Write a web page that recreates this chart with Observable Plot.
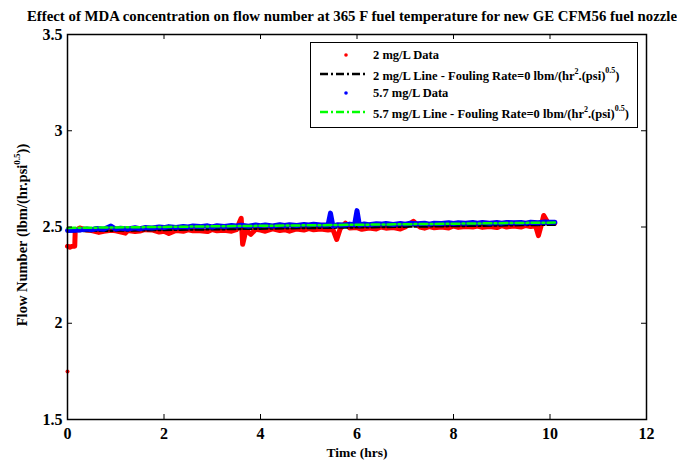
<!DOCTYPE html>
<html>
<head>
<meta charset="utf-8">
<script src="https://cdn.jsdelivr.net/npm/d3@7"></script>
<script src="https://cdn.jsdelivr.net/npm/@observablehq/plot@0.6"></script>
<style>
  html, body { margin: 0; padding: 0; background: white; }
  svg { display: block; }
</style>
</head>
<body>
<div id="chart"></div>
<script>
const titleText = "Effect of MDA concentration on flow number at 365 F fuel temperature for new GE CFM56 fuel nozzle";
const xLabel = "Time (hrs)";
const yLabelMain = "Flow Number (lbm/(hr.psi";
const yLabelSup = "0.5";
const yLabelEnd = "))";

const xTicks = [0, 2, 4, 6, 8, 10, 12];
const xTickLabels = ["0", "2", "4", "6", "8", "10", "12"];
const yTicks = [1.5, 2, 2.5, 3, 3.5];
const yTickLabels = ["1.5", "2", "2.5", "3", "3.5"];

// 2 mg/L data (red)
const redT = [0, 0.05, 0.1, 0.15, 0.16, 0.25, 0.4, 0.5, 0.65, 0.75, 0.9, 1.0, 1.2, 1.25, 1.4, 1.5, 1.6, 1.75, 1.9, 2.0, 2.1, 2.25, 2.4, 2.5, 2.6, 2.75, 2.9, 3.0, 3.1, 3.25, 3.4, 3.5, 3.6, 3.63, 3.7, 3.8, 3.9, 4.0, 4.1, 4.25, 4.4, 4.5, 4.6, 4.75, 4.9, 5.0, 5.1, 5.25, 5.4, 5.5, 5.58, 5.65, 5.76, 5.85, 6.0, 6.1, 6.25, 6.4, 6.5, 6.6, 6.75, 6.9, 7.0, 7.17, 7.3, 7.4, 7.5, 7.6, 7.75, 7.9, 8.0, 8.1, 8.25, 8.4, 8.5, 8.6, 8.75, 8.9, 9.0, 9.1, 9.25, 9.4, 9.5, 9.6, 9.7, 9.76, 9.82, 9.87, 9.95, 10.1];
const redV = [2.40, 2.395, 2.40, 2.40, 2.48, 2.495, 2.484, 2.482, 2.472, 2.478, 2.483, 2.48, 2.468, 2.482, 2.476, 2.479, 2.486, 2.485, 2.474, 2.478, 2.466, 2.482, 2.478, 2.485, 2.48, 2.48, 2.476, 2.487, 2.48, 2.483, 2.478, 2.486, 2.545, 2.41, 2.485, 2.462, 2.488, 2.484, 2.478, 2.49, 2.482, 2.486, 2.478, 2.49, 2.484, 2.492, 2.486, 2.49, 2.484, 2.488, 2.435, 2.49, 2.52, 2.495, 2.497, 2.488, 2.495, 2.49, 2.5, 2.494, 2.497, 2.49, 2.5, 2.53, 2.5, 2.494, 2.502, 2.496, 2.5, 2.495, 2.505, 2.498, 2.503, 2.5, 2.505, 2.498, 2.502, 2.497, 2.507, 2.5, 2.505, 2.5, 2.508, 2.502, 2.506, 2.455, 2.51, 2.56, 2.525, 2.52];
const redOutlierT = [0];
const redOutlierV = [1.75];

// 5.7 mg/L data (blue)
const blueT = [0, 0.25, 0.4, 0.5, 0.6, 0.75, 0.9, 1.0, 1.1, 1.25, 1.4, 1.5, 1.6, 1.75, 1.9, 2.0, 2.1, 2.25, 2.4, 2.5, 2.6, 2.75, 2.9, 3.0, 3.1, 3.25, 3.4, 3.5, 3.6, 3.75, 3.9, 4.0, 4.1, 4.25, 4.4, 4.5, 4.6, 4.75, 4.9, 5.0, 5.1, 5.25, 5.4, 5.45, 5.5, 5.6, 5.75, 5.85, 5.95, 6.0, 6.05, 6.15, 6.25, 6.4, 6.5, 6.6, 6.75, 6.9, 7.0, 7.1, 7.25, 7.4, 7.5, 7.6, 7.75, 7.9, 8.0, 8.1, 8.25, 8.4, 8.5, 8.6, 8.75, 8.9, 9.0, 9.1, 9.25, 9.4, 9.5, 9.6, 9.75, 9.9, 10.0, 10.1];
const blueV = [2.482, 2.484, 2.49, 2.486, 2.492, 2.488, 2.505, 2.489, 2.494, 2.49, 2.496, 2.491, 2.497, 2.495, 2.5, 2.497, 2.502, 2.498, 2.503, 2.5, 2.505, 2.502, 2.506, 2.5, 2.507, 2.503, 2.508, 2.505, 2.509, 2.504, 2.51, 2.507, 2.511, 2.505, 2.512, 2.508, 2.512, 2.508, 2.513, 2.51, 2.514, 2.51, 2.51, 2.572, 2.505, 2.512, 2.51, 2.515, 2.512, 2.585, 2.51, 2.516, 2.512, 2.517, 2.515, 2.518, 2.513, 2.518, 2.515, 2.519, 2.517, 2.52, 2.515, 2.52, 2.518, 2.522, 2.518, 2.522, 2.52, 2.523, 2.52, 2.524, 2.52, 2.523, 2.52, 2.524, 2.522, 2.524, 2.52, 2.525, 2.522, 2.526, 2.525, 2.525];

// fitted lines
const fitT = [0, 10.1];
const blackFitV = [2.478, 2.512];
const greenFitV = [2.495, 2.523];

const legendLabels = ["2 mg/L Data", "2 mg/L Line - Fouling Rate=0 lbm/(hr", "5.7 mg/L Data", "5.7 mg/L Line - Fouling Rate=0 lbm/(hr"];
const legendColors = ["#ff0000", "#000000", "#0000ff", "#00ff00"];

const zip = (T, V) => T.map((t, i) => ({t, v: V[i]}));
const red = zip(redT, redV);
const blue = zip(blueT, blueV);
const redOut = zip(redOutlierT, redOutlierV);
const blackFit = zip(fitT, blackFitV);
const greenFit = zip(fitT, greenFitV);

const W = 677, H = 462, mT = 34, mB = 43, mL = 67, mR = 31;
const innerW = W - mL - mR, innerH = H - mT - mB;
const font = "'Liberation Serif', 'Times New Roman', serif";
const dash = "8,3,2,3";

const chart = Plot.plot({
  width: W, height: H,
  marginTop: mT, marginBottom: mB, marginLeft: mL, marginRight: mR,
  x: {domain: [0, 12]},
  y: {domain: [1.5, 3.5]},
  style: {fontFamily: font, fontWeight: "bold", fontSize: "16px", background: "white", color: "black"},
  marks: [
    Plot.line(red, {x: "t", y: "v", stroke: "#ff0000", strokeWidth: 5, strokeLinejoin: "round", strokeLinecap: "round"}),
    Plot.line(blackFit, {x: "t", y: "v", stroke: "#000000", strokeWidth: 2.5, strokeDasharray: dash}),
    Plot.line(blue, {x: "t", y: "v", stroke: "#0000ff", strokeWidth: 5, strokeLinejoin: "round", strokeLinecap: "round"}),
    Plot.line(greenFit, {x: "t", y: "v", stroke: "#00ff00", strokeWidth: 2.5, strokeDasharray: dash}),
    Plot.dot(redOut, {x: "t", y: "v", r: 2, fill: "#ff0000"}),
    // inward ticks on all four sides
    Plot.tickX(xTicks, {x: d => d, insetTop: innerH - 5, stroke: "black", strokeWidth: 1}),
    Plot.tickX(xTicks, {x: d => d, insetBottom: innerH - 5, stroke: "black", strokeWidth: 1}),
    Plot.tickY(yTicks, {y: d => d, insetRight: innerW - 5, stroke: "black", strokeWidth: 1}),
    Plot.tickY(yTicks, {y: d => d, insetLeft: innerW - 5, stroke: "black", strokeWidth: 1}),
    Plot.axisX({anchor: "bottom", ticks: xTicks, tickFormat: d => xTickLabels[xTicks.indexOf(d)], tickSize: 0, tickPadding: 8, label: null, fontSize: 16, fontWeight: "bold"}),
    Plot.axisY({anchor: "left", ticks: yTicks, tickFormat: d => yTickLabels[yTicks.indexOf(d)], tickSize: 0, tickPadding: 5, label: null, fontSize: 16, fontWeight: "bold"}),
    Plot.frame({stroke: "black", strokeWidth: 1.5})
  ]
});

document.getElementById("chart").appendChild(chart);
const svg = d3.select(chart);

// title
svg.append("text")
  .attr("x", 352).attr("y", 21)
  .attr("text-anchor", "middle")
  .attr("font-family", font).attr("font-weight", "bold").attr("font-size", 14.8)
  .attr("fill", "black")
  .text(titleText);

// x label
svg.append("text")
  .attr("x", 357).attr("y", 457)
  .attr("text-anchor", "middle")
  .attr("font-family", font).attr("font-weight", "bold").attr("font-size", 13.5)
  .attr("fill", "black")
  .text(xLabel);

// y label
const yl = svg.append("text")
  .attr("transform", "translate(27,235) rotate(-90)")
  .attr("text-anchor", "middle")
  .attr("font-family", font).attr("font-weight", "bold").attr("font-size", 14.5)
  .attr("fill", "black");
yl.append("tspan").text(yLabelMain);
yl.append("tspan").attr("font-size", 9).attr("dy", -7).text(yLabelSup);
yl.append("tspan").attr("dy", 7).text(yLabelEnd);

// legend
const lg = svg.append("g").attr("text-anchor", "start");
lg.append("rect").attr("x", 310.5).attr("y", 42.5).attr("width", 327).attr("height", 85)
  .attr("fill", "white").attr("stroke", "black").attr("stroke-width", 1);
const rowY = [55, 74, 93, 112];
const textX = 373;
legendLabels.forEach((lab, i) => {
  const y = rowY[i];
  if (i % 2 === 0) {
    lg.append("circle").attr("cx", 346).attr("cy", y).attr("r", 1.8).attr("fill", legendColors[i]);
    lg.append("text").attr("x", textX).attr("y", y + 4).attr("text-anchor", "start")
      .attr("font-family", font).attr("font-weight", "bold").attr("font-size", 12.5).attr("fill", "black")
      .text(lab);
  } else {
    lg.append("line").attr("x1", 320).attr("x2", 368).attr("y1", y).attr("y2", y)
      .attr("stroke", legendColors[i]).attr("stroke-width", 2.5).attr("stroke-dasharray", dash);
    const t = lg.append("text").attr("x", textX).attr("y", y + 6).attr("text-anchor", "start")
      .attr("font-family", font).attr("font-weight", "bold").attr("font-size", 12.5).attr("fill", "black");
    t.append("tspan").text(lab);
    t.append("tspan").attr("font-size", 8).attr("dy", -6).text("2");
    t.append("tspan").attr("dy", 6).text(".(psi)");
    t.append("tspan").attr("font-size", 8).attr("dy", -7).text("0.5");
    t.append("tspan").attr("dy", 7).text(")");
  }
});
</script>
</body>
</html>
